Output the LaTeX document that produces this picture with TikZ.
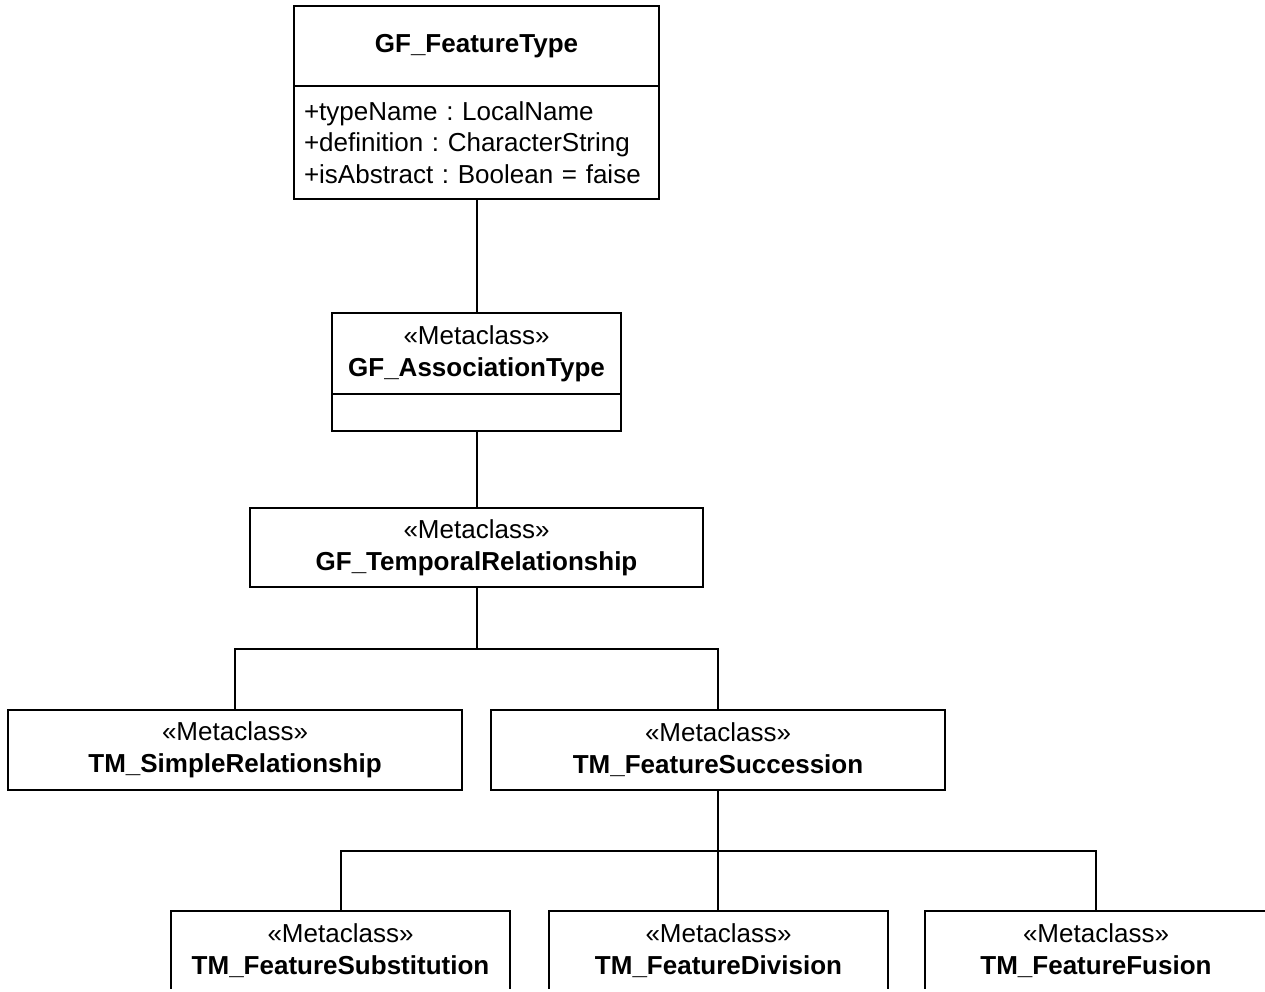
\documentclass[tikz,border=0pt]{standalone}
\usepackage{fontspec}
\setmainfont{Liberation Sans}
\frenchspacing
\usetikzlibrary{positioning}
\tikzset{%
	classbox/.style = {draw, rectangle, line width=2pt, inner sep=0pt, outer sep=0pt, anchor=north, align=center, font=\fontsize{26}{32}\selectfont},
	attrbox/.style  = {classbox, align=left, inner xsep=10pt, font=\fontsize{26}{31.5}\selectfont},
	link/.style     = {line width=2pt},
}

\begin{document}
\begin{tikzpicture}[x=1pt,y=-1pt]
		\useasboundingbox (0,0) rectangle (1265,991);
		\clip (0,0) rectangle (1265,988.6);
		
		% feature type with its attributes
		\node[classbox, minimum width=365, minimum height=80] (ft) at (476.5,6) {\textbf{GF\_FeatureType}};
		\node[attrbox, text width=345, minimum height=113, below=0pt of ft] (ftattr) {+typeName : LocalName\\+definition : CharacterString\\+isAbstract : Boolean = faise};
		
		% metaclasses
		\node[classbox, minimum width=289, minimum height=81] (assoc) at (476.5,313) {«Metaclass»\\\textbf{GF\_AssociationType}};
		\node[classbox, minimum width=289, minimum height=37, below=0pt of assoc] (assocattr) {};
		\node[classbox, minimum width=453, minimum height=79] (temp) at (476.5,508) {«Metaclass»\\\textbf{GF\_TemporalRelationship}};
		
		\node[classbox, minimum width=454, minimum height=80] (simple) at (235,710) {«Metaclass»\\\textbf{TM\_SimpleRelationship}};
		\node[classbox, minimum width=454, minimum height=80] (succ) at (718,710) {«Metaclass»\\\textbf{TM\_FeatureSuccession}};
		
		\node[classbox, minimum width=339, minimum height=79] (subst) at (340.5,911) {«Metaclass»\\\textbf{TM\_FeatureSubstitution}};
		\node[classbox, minimum width=339, minimum height=79] (div) at (718.5,911) {«Metaclass»\\\textbf{TM\_FeatureDivision}};
		\node[classbox, minimum width=342, minimum height=79] (fusion) at (1096,911) {«Metaclass»\\\textbf{TM\_FeatureFusion}};
		
		% connectors
		\draw[link] (ftattr) -- (assoc);
		\draw[link] (assocattr) -- (temp);
		
		\coordinate (j1) at (476.5,649);
		\draw[link] (temp) -- (j1);
		\draw[link] (simple.north) |- (j1) -| (succ.north);
		
		\coordinate (j2) at (718,851);
		\draw[link] (succ) -- (j2);
		\draw[link] (subst.north) |- (j2) -| (fusion.north);
		\draw[link] (j2) -- (div.north -| j2);
		\end{tikzpicture}
\end{document}
